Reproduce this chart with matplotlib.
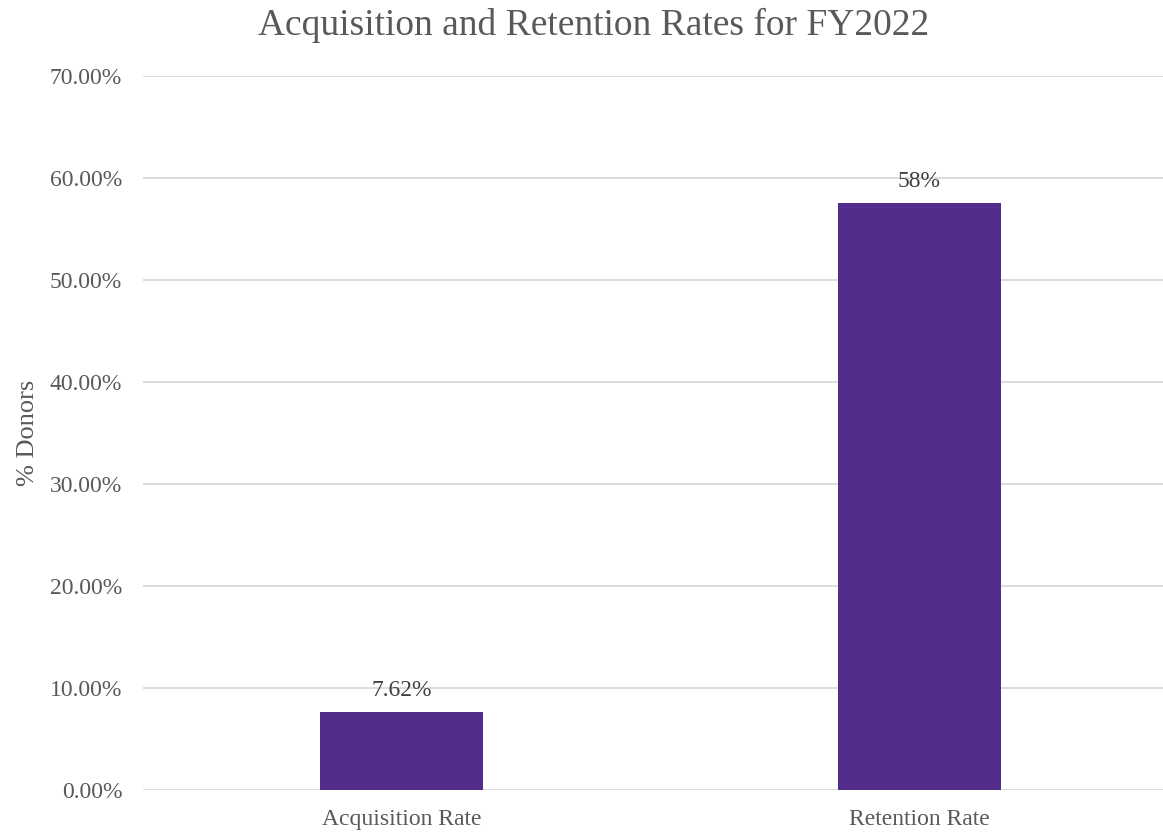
import matplotlib.pyplot as plt
from matplotlib.ticker import PercentFormatter

plt.rcParams['font.family'] = ['Liberation Serif', 'DejaVu Serif']

categories = ['Acquisition Rate', 'Retention Rate']
rates = [0.0762, 0.5755]
label_fmt = ['{:.2%}', '{:.0%}']

bar_color = '#522D8C'
text_gray = '#595959'
grid_gray = '#D9D9D9'

fig = plt.figure(figsize=(11.63, 8.32), dpi=100)
ax = fig.add_axes([0.123, 0.0505, 0.877, 0.8582])

x = range(len(categories))
bars = ax.bar(x, rates, width=0.315, color=bar_color, zorder=3)

for b, v, f in zip(bars, rates, label_fmt):
    ax.annotate(f.format(v), (b.get_x() + b.get_width() / 2, v),
                xytext=(0, 8), textcoords='offset points',
                ha='center', va='bottom', fontsize=17, color='#404040')

ax.set_xlim(-0.4995, 1.471)
ax.set_ylim(0, 0.70)
ax.set_yticks([i / 10 for i in range(8)])
ax.yaxis.set_major_formatter(PercentFormatter(1.0, decimals=2))
ax.set_xticks(list(x))
ax.set_xticklabels(categories)

ax.grid(axis='y', color=grid_gray, linewidth=1.3, zorder=0)
for s in ax.spines.values():
    s.set_visible(False)
ax.tick_params(axis='both', length=0, labelsize=17, labelcolor=text_gray)
ax.tick_params(axis='y', pad=15)
ax.tick_params(axis='x', pad=14)

ax.set_ylabel('% Donors', fontsize=19, color=text_gray, labelpad=8)
fig.suptitle('Acquisition and Retention Rates for FY2022', fontsize=27,
             color=text_gray, y=0.99, va='top', x=0.51)

fig.savefig('out.png', dpi=100)
